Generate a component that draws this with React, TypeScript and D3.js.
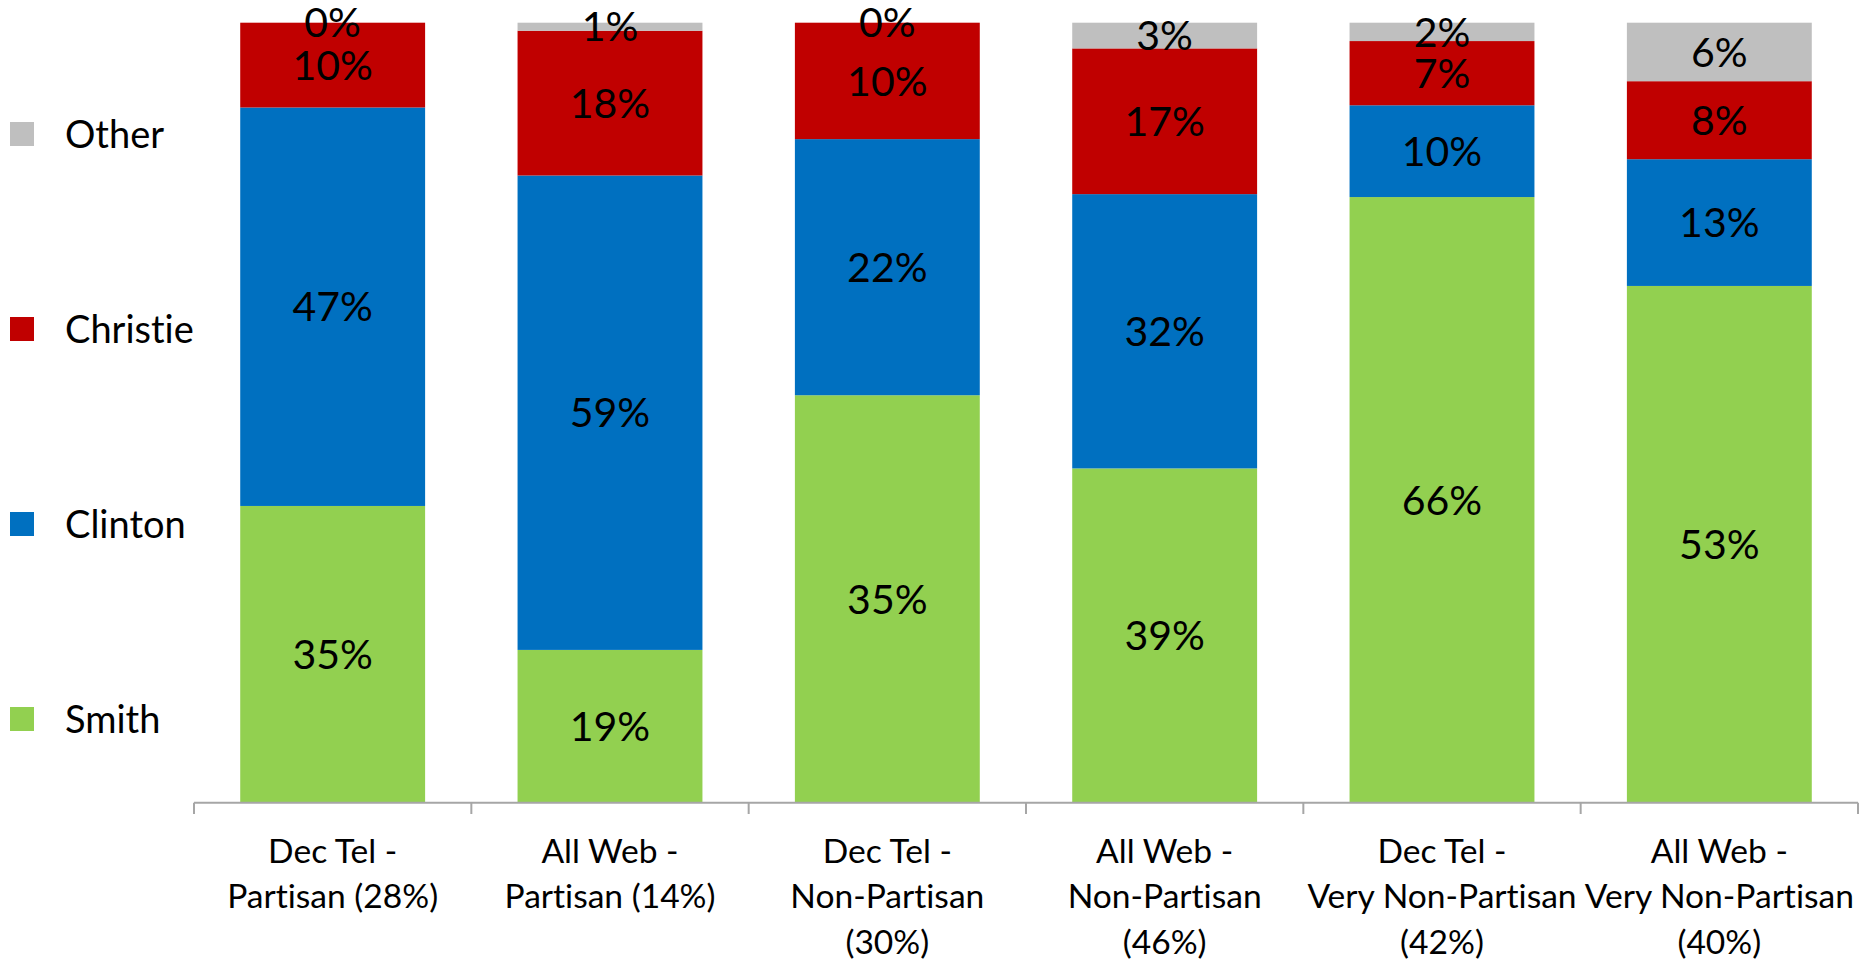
import React from "react";
import * as d3 from "d3";

const categories = ["c1", "c2", "c3", "c4", "c5", "c6"];
const categoryLines = [
  ["Dec Tel -", "Partisan (28%)"],
  ["All Web -", "Partisan (14%)"],
  ["Dec Tel -", "Non-Partisan", "(30%)"],
  ["All Web -", "Non-Partisan", "(46%)"],
  ["Dec Tel -", "Very Non-Partisan", "(42%)"],
  ["All Web -", "Very Non-Partisan", "(40%)"],
];
const seriesNames = ["Smith", "Clinton", "Christie", "Other"];
const smith = [35, 19, 35, 39, 66, 53];
const clinton = [47, 59, 22, 32, 10, 13];
const christie = [10, 18, 10, 17, 7, 8];
const other = [0, 1, 0, 3, 2, 6];
const seriesColors = ["#92D050", "#0070C0", "#C00000", "#BFBFBF"];

const W = 1872;
const H = 961;
const FONT = "Lato, 'Open Sans', sans-serif";

export default function App() {
  const values = [smith, clinton, christie, other];
  const rows = categories.map((c, i) => {
    const r: any = { cat: c };
    seriesNames.forEach((s, k) => (r[s] = values[k][i]));
    return r;
  });
  const stack = d3.stack().keys(seriesNames).offset(d3.stackOffsetExpand);
  const layers = stack(rows);

  const x = d3
    .scaleBand()
    .domain(categories)
    .range([194, 1858])
    .paddingInner(1 / 3)
    .paddingOuter(1 / 6);
  const y = d3.scaleLinear().domain([0, 1]).range([802.7, 22.7]);
  const step = x.step();
  const axisX0 = 194;
  const axisY = 802.7;

  const legendY = d3
    .scalePoint()
    .domain([...seriesNames].reverse())
    .range([134, 719]);

  return (
    <svg
      width={W}
      height={H}
      style={{
        position: "absolute",
        left: 0,
        top: 0,
        display: "block",
        fontVariantLigatures: "none",
        fontKerning: "normal",
      }}
      fontFamily={FONT}
    >
      <rect x={0} y={0} width={W} height={H} fill="#fff" />
      {layers.map((layer, k) => (
        <g key={layer.key} fill={seriesColors[k]}>
          {layer.map((d, i) => (
            <rect
              key={i}
              x={x(categories[i])}
              width={x.bandwidth()}
              y={y(d[1])}
              height={Math.max(0, y(d[0]) - y(d[1]))}
            />
          ))}
        </g>
      ))}
      {layers.map((layer, k) => (
        <g key={"lab" + layer.key} fontSize={41} fill="#000" textAnchor="middle">
          {layer.map((d, i) => (
            <text
              key={i}
              x={(x(categories[i]) as number) + x.bandwidth() / 2}
              y={(y(d[0]) + y(d[1])) / 2}
              dy="0.36em"
            >
              {values[k][i] + "%"}
            </text>
          ))}
        </g>
      ))}
      <g stroke="#A6A6A6" strokeWidth={2} fill="none">
        <line x1={axisX0} x2={1858} y1={axisY} y2={axisY} />
        {d3.range(categories.length + 1).map((i) => (
          <line
            key={i}
            x1={axisX0 + i * step}
            x2={axisX0 + i * step}
            y1={axisY}
            y2={814}
          />
        ))}
      </g>
      <g fontSize={33.6} fill="#000" textAnchor="middle">
        {categories.map((c, i) => (
          <text key={c} x={(x(c) as number) + x.bandwidth() / 2} y={862.7}>
            {categoryLines[i].map((ln, j) => (
              <tspan key={j} x={(x(c) as number) + x.bandwidth() / 2} y={862.7 + j * 45.6}>
                {ln}
              </tspan>
            ))}
          </text>
        ))}
      </g>
      <g fontSize={38} fill="#000">
        {[...seriesNames].reverse().map((s) => {
          const k = seriesNames.indexOf(s);
          const cy = legendY(s) as number;
          return (
            <g key={s}>
              <rect x={10} y={cy - 12} width={24} height={24} fill={seriesColors[k]} />
              <text x={65} y={cy} dy="0.36em">
                {s}
              </text>
            </g>
          );
        })}
      </g>
    </svg>
  );
}
